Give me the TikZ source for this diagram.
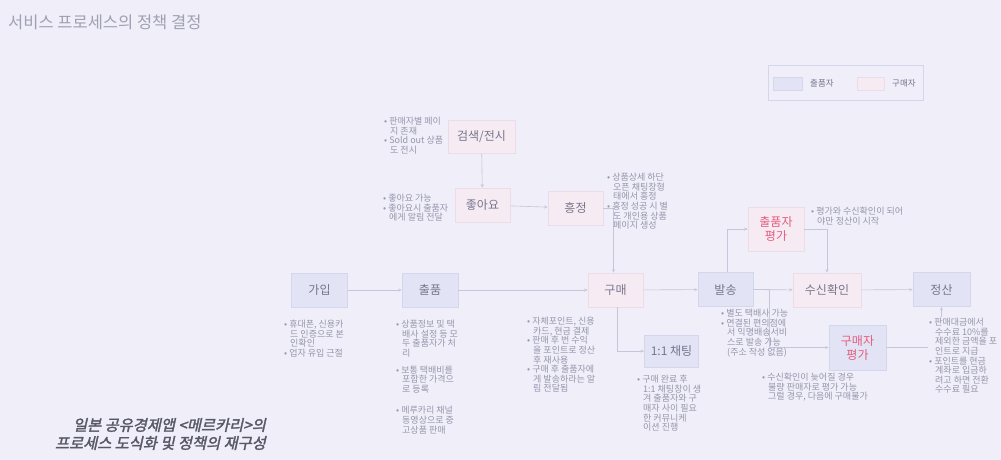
\documentclass[tikz,border=0pt]{standalone}
\usepackage{fontspec}
\newfontfamily\kr{Noto Sans CJK KR}
\newfontfamily\krbi[FakeSlant=0.22,FakeBold=2]{Noto Sans CJK KR}
\usetikzlibrary{arrows.meta}
\definecolor{bg}{RGB}{240,238,249}
\definecolor{sfill}{RGB}{226,228,246}
\definecolor{sdraw}{RGB}{212,214,238}
\definecolor{bfill}{RGB}{246,235,243}
\definecolor{bdraw}{RGB}{234,220,232}
\definecolor{boxtxt}{RGB}{118,118,140}
\definecolor{bultxt}{RGB}{150,150,172}
\definecolor{redtxt}{RGB}{228,92,124}
\definecolor{linec}{RGB}{198,198,218}
\definecolor{titletxt}{RGB}{160,160,178}
\definecolor{captxt}{RGB}{88,88,102}
\newcommand\ind{\hspace*{6pt}}
\begin{document}
\begin{tikzpicture}[x=1pt,y=-1pt,
  sbox/.style={draw=sdraw,fill=sfill,line width=0.6pt,text=boxtxt,font=\kr\fontsize{12}{14}\selectfont,minimum height=34pt,inner sep=1pt,align=center},
  bbox/.style={draw=bdraw,fill=bfill,line width=0.6pt,text=boxtxt,font=\kr\fontsize{12}{14}\selectfont,minimum height=34pt,inner sep=1pt,align=center},
  bul/.style={text=bultxt,font=\kr\fontsize{9}{9.6}\selectfont,inner sep=0pt,align=left,anchor=north west},
  conn/.style={draw=linec,line width=0.6pt,-{Stealth[length=3.5pt,width=3pt]}}]
\fill[bg] (0,0) rectangle (1001,460);
\useasboundingbox (0,0) rectangle (1001,460);
% title
\node[anchor=west,text=titletxt,font=\kr\fontsize{16.5}{18}\selectfont,inner sep=0pt] (title) at (8,22) {서비스 프로세스의 정책 결정};
% legend
\node[draw=sdraw,line width=0.8pt,fill=bg,minimum width=155pt,minimum height=35pt,inner sep=0pt] (legend) at (845.5,82.5) {};
\node[draw=sdraw,fill=sfill,minimum width=29pt,minimum height=13pt,inner sep=0pt] (legs) at (787.5,83.5) {};
\node[anchor=west,text=boxtxt,font=\kr\fontsize{8.5}{9}\selectfont,inner sep=0pt] (legst) at (810,83.5) {출품자};
\node[draw=bdraw,fill=bfill,minimum width=27pt,minimum height=13pt,inner sep=0pt] (legb) at (870.5,83.5) {};
\node[anchor=west,text=boxtxt,font=\kr\fontsize{8.5}{9}\selectfont,inner sep=0pt] (legbt) at (892,83.5) {구매자};
% boxes
\node[bbox,minimum width=67pt,minimum height=33pt] (search) at (481.5,137) {검색/전시};
\node[bbox,minimum width=55pt] (like) at (482.5,205) {좋아요};
\node[bbox,minimum width=55pt] (haggle) at (575.5,208) {흥정};
\node[bbox,minimum width=56pt,minimum height=44pt,text=redtxt] (sreview) at (776,229) {출품자\\평가};
\node[sbox,minimum width=56pt] (join) at (319.5,290) {가입};
\node[sbox,minimum width=56pt] (list) at (430,290) {출품};
\node[bbox,minimum width=55pt] (buy) at (615.5,290) {구매};
\node[sbox,minimum width=55pt] (ship) at (725.5,289.5) {발송};
\node[bbox,minimum width=68pt] (recv) at (827,290) {수신확인};
\node[sbox,minimum width=57pt] (settle) at (941.5,289.5) {정산};
\node[sbox,minimum width=54pt,minimum height=32pt] (chat) at (671.5,351) {1:1 채팅};
\node[sbox,minimum width=57pt,minimum height=45pt,text=redtxt] (breview) at (857.5,347.5) {구매자\\평가};
% connectors
\draw[conn] (search) -- (like);
\draw[conn] (like) -- (haggle);
\draw[conn] (haggle.east) -| ([xshift=-2pt]buy.north);
\draw[conn] (join) -- (list);
\draw[conn] (list) -- (buy);
\draw[conn] (buy) -- (ship);
\draw[conn] (ship) -- (recv);
\draw[conn] (recv) -- (settle);
\draw[conn] ([xshift=2pt]buy.south) |- (chat.west);
\draw[conn] ([xshift=2pt]ship.north) |- (sreview.west);
\draw[conn] (sreview.east) -| (recv.north);
\draw[conn] (ship.east) -- ++(16,0) |- (breview.west);
\draw[conn] (breview.east) -| (settle.south);
% bullets
\node[bul] (bsearch) at (384,117) {• 판매자별 페이\\\ind 지 존재\\• Sold out 상품\\\ind 도 전시};
\node[bul] (blike) at (383,194) {• 좋아요 가능\\• 좋아요시 출품자\\\ind 에게 알림 전달};
\node[bul] (bhaggle) at (607,173) {• 상품상세 하단\\\ind 오픈 채팅창형\\\ind 태에서 흥정\\• 흥정 성공 시 별\\\ind 도 개인용 상품\\\ind 페이지 생성};
\node[bul] (bsreview) at (811,207) {• 평가와 수신확인이 되어\\\ind 야만 정산이 시작};
\node[bul] (bjoin) at (284,320) {• 휴대폰, 신용카\\\ind 드 인증으로 본\\\ind 인확인\\• 업자 유입 근절};
\node[bul] (blist) at (396,320) {• 상품정보 및 택\\\ind 배사 설정 등 모\\\ind 두 출품자가 처\\\ind 리\\[7pt]• 보통 택배비를\\\ind 포함한 가격으\\\ind 로 등록\\[12pt]• 메루카리 채널\\\ind 동영상으로 중\\\ind 고상품 판매};
\node[bul] (bbuy) at (527,317) {• 자체포인트, 신용\\\ind 카드, 현금 결제\\• 판매 후 번 수익\\\ind 을 포인트로 정산\\\ind 후 재사용\\• 구매 후 출품자에\\\ind 게 발송하라는 알\\\ind 림 전달됨};
\node[bul] (bchat) at (637,375) {• 구매 완료 후\\\ind 1:1 채팅창이 생\\\ind 겨 출품자와 구\\\ind 매자 사이 필요\\\ind 한 커뮤니케\\\ind 이션 진행};
\node[bul] (bship) at (721,309) {• 별도 택배사 가능\\• 연결된 편의점에\\\ind 서 익명배송서비\\\ind 스로 발송 가능\\\ind (주소 작성 없음)};
\node[bul] (bbreview) at (762,373) {• 수신확인이 늦어질 경우\\\ind 불량 판매자로 평가 가능\\\ind 그럴 경우, 다음에 구매불가};
\node[bul,fill=bg,inner sep=1pt] (bsettle) at (928,317) {• 판매대금에서\\\ind 수수료 10\%를\\\ind 제외한 금액을 포\\\ind 인트로 지급\\• 포인트를 현금\\\ind 계좌로 입금하\\\ind 려고 하면 전환\\\ind 수수료 필요};
% caption
\node[anchor=east,text=captxt,font=\krbi\fontsize{15.3}{18}\selectfont,inner sep=0pt,align=right] (cap) at (266,434) {일본 공유경제앱 <메르카리>의\\프로세스 도식화 및 정책의 재구성};
\end{tikzpicture}
\end{document}
